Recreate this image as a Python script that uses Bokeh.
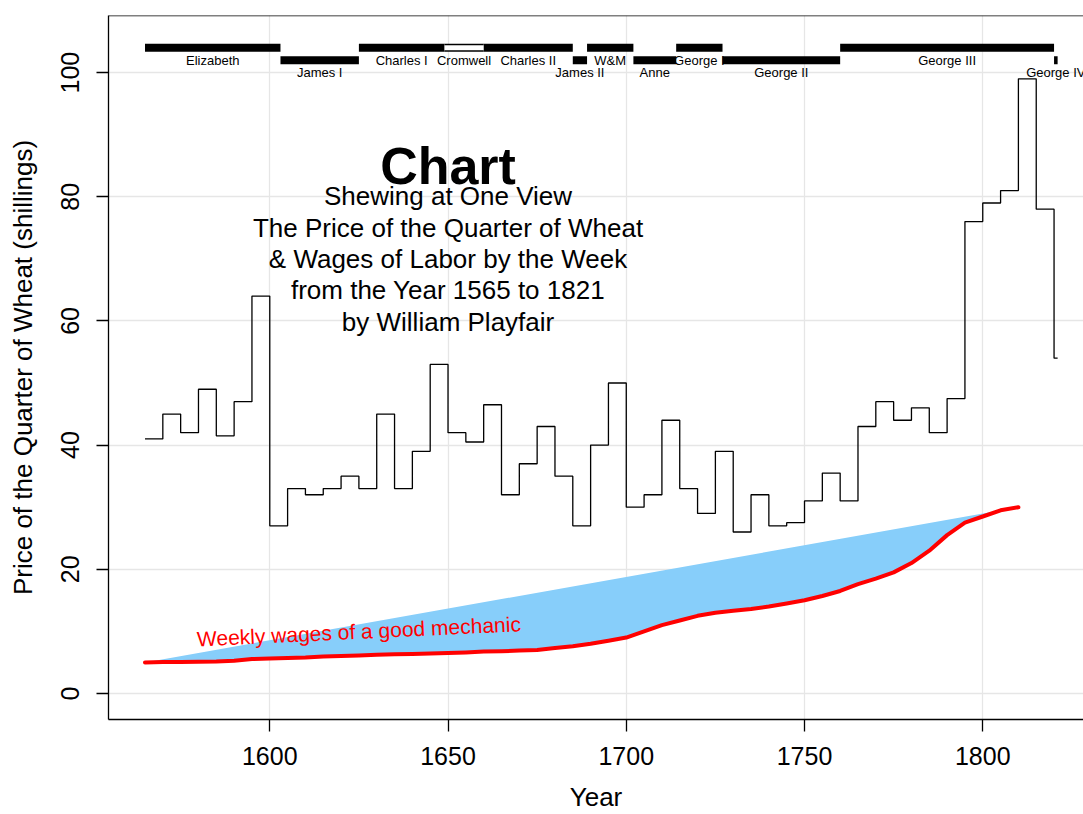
from bokeh.plotting import figure
from bokeh.models import FixedTicker, Span, ColumnDataSource, Range1d
from bokeh.core.properties import value
from bokeh.embed import file_html
from bokeh.resources import INLINE

# ---- data ----
years = [1565, 1570, 1575, 1580, 1585, 1590, 1595, 1600, 1605, 1610, 1615, 1620,
         1625, 1630, 1635, 1640, 1645, 1650, 1655, 1660, 1665, 1670, 1675, 1680,
         1685, 1690, 1695, 1700, 1705, 1710, 1715, 1720, 1725, 1730, 1735, 1740,
         1745, 1750, 1755, 1760, 1765, 1770, 1775, 1780, 1785, 1790, 1795, 1800,
         1805, 1810, 1815, 1820, 1821]
wheat = [41, 45, 42, 49, 41.5, 47, 64, 27, 33, 32, 33, 35, 33, 45, 33, 39, 53, 42,
         40.5, 46.5, 32, 37, 43, 35, 27, 40, 50, 30, 32, 44, 33, 29, 39, 26, 32, 27,
         27.5, 31, 35.5, 31, 43, 47, 44, 46, 42, 47.5, 76, 79, 81, 99, 78, 54, 54]
wage_years = years[:50]
wages = [5.00, 5.05, 5.08, 5.12, 5.15, 5.25, 5.54, 5.61, 5.69, 5.78, 5.94, 6.01,
         6.12, 6.22, 6.30, 6.37, 6.45, 6.50, 6.60, 6.75, 6.80, 6.90, 7.00, 7.30,
         7.60, 8.00, 8.50, 9.00, 10.00, 11.00, 11.75, 12.50, 13.00, 13.30, 13.60,
         14.00, 14.50, 15.00, 15.70, 16.50, 17.60, 18.50, 19.50, 21.00, 23.00,
         25.50, 27.50, 28.50, 29.50, 30.00]

monarchs = ["Elizabeth", "James I", "Charles I", "Cromwell", "Charles II", "James II",
            "W&M", "Anne", "George I", "George II", "George III", "George IV"]
m_start = [1565, 1603, 1625, 1649, 1660, 1685, 1689, 1702, 1714, 1727, 1760, 1820]
m_end = [1603, 1625, 1649, 1660, 1685, 1689, 1702, 1714, 1727, 1760, 1820, 1821]
commonwealth = [0, 0, 0, 1, 0, 0, 0, 0, 0, 0, 0, 0]

x_ticks = [1600, 1650, 1700, 1750, 1800]
y_ticks = [0, 20, 40, 60, 80, 100]

title_text = "Chart"
subtitle_lines = ["Shewing at One View",
                  "The Price of the Quarter of Wheat",
                  "& Wages of Labor by the Week",
                  "from the Year 1565 to 1821",
                  "by William Playfair"]
wage_label = "Weekly wages of a good mechanic"

FONT = "Liberation Sans"

# ---- figure ----
p = figure(width=1083, height=814, output_backend="svg", toolbar_location=None,
           x_range=Range1d(1554.76, 1828.26), y_range=Range1d(-4.2, 109.2),
           min_border_left=108, min_border_right=0, min_border_top=15,
           min_border_bottom=94,
           x_axis_label="Year",
           y_axis_label="Price of the Quarter of Wheat (shillings)")
p.outline_line_color = None
p.background_fill_color = "white"
p.border_fill_color = "white"

for ax in (p.xaxis[0], p.yaxis[0]):
    ax.axis_line_color = "black"
    ax.axis_line_width = 1.3
    ax.major_tick_line_color = "black"
    ax.major_tick_line_width = 1.3
    ax.major_tick_out = 12
    ax.major_tick_in = 0
    ax.minor_tick_line_color = None
    ax.major_label_text_font = FONT
    ax.major_label_text_font_size = "25px"
    ax.major_label_text_color = "black"
    ax.axis_label_text_font = FONT
    ax.axis_label_text_font_size = "26px"
    ax.axis_label_text_font_style = "normal"
    ax.axis_label_text_color = "black"

p.xaxis.ticker = FixedTicker(ticks=x_ticks)
p.yaxis.ticker = FixedTicker(ticks=y_ticks)
p.xaxis.major_label_standoff = 15
p.xaxis.axis_label_standoff = 14
p.yaxis.major_label_orientation = "vertical"
p.yaxis.major_label_standoff = 17
p.yaxis.axis_label_standoff = 21

p.xgrid.ticker = FixedTicker(ticks=x_ticks)
p.ygrid.ticker = FixedTicker(ticks=y_ticks)
p.grid.grid_line_color = "#E6E6E6"
p.grid.grid_line_width = 1.3

# top frame line
p.add_layout(Span(location=109.2, dimension="width", line_color="black", line_width=1.3))

# wheat price step line
p.step(years, wheat, mode="after", line_color="black", line_width=1.3)

# wages area and line
p.patch(wage_years, wages, fill_color="#87CEFA", line_color=None)
p.line(wage_years, wages, line_color="#FF0000", line_width=4, line_cap="round",
       line_join="round")

# monarchs
m_y = [104 if (c or (i + 1) % 2 == 1) else 102 for i, c in enumerate(commonwealth)]
m_mid = [(s + e) / 2 for s, e in zip(m_start, m_end)]
m_lab_y = [y - 2 for y in m_y]
msrc = ColumnDataSource(dict(x0=m_start, x1=m_end, y=m_y, xm=m_mid, ly=m_lab_y,
                             name=monarchs))
p.segment(x0="x0", y0="y", x1="x1", y1="y", source=msrc, line_color="black",
          line_width=8, line_cap="butt")
cw = [i for i, c in enumerate(commonwealth) if c]
p.segment(x0=[m_start[i] for i in cw], y0=[m_y[i] for i in cw],
          x1=[m_end[i] for i in cw], y1=[m_y[i] for i in cw],
          line_color="white", line_width=5, line_cap="butt")
p.text(x="xm", y="ly", text="name", source=msrc, text_font=value(FONT),
       text_font_size="13px", text_align="center", text_baseline="middle",
       text_color="black")

# title
p.text(x=[1650], y=[85], text=[title_text], text_font=value(FONT),
       text_font_size="52px", text_font_style="bold", text_align="center",
       text_baseline="middle", text_color="black")
step = 5.05
sub_y = [70 + (2 - i) * step for i in range(len(subtitle_lines))]
p.text(x=[1650] * len(subtitle_lines), y=sub_y, text=subtitle_lines,
       text_font=value(FONT), text_font_size="26px", text_align="center",
       text_baseline="middle", text_color="black")

# wages label
p.text(x=[1625], y=[10], text=[wage_label], angle=0.047, text_font=value(FONT),
       text_font_size="21px", text_align="center", text_baseline="middle",
       text_color="#FF0000")

open("out.html", "w").write(file_html(p, INLINE))
